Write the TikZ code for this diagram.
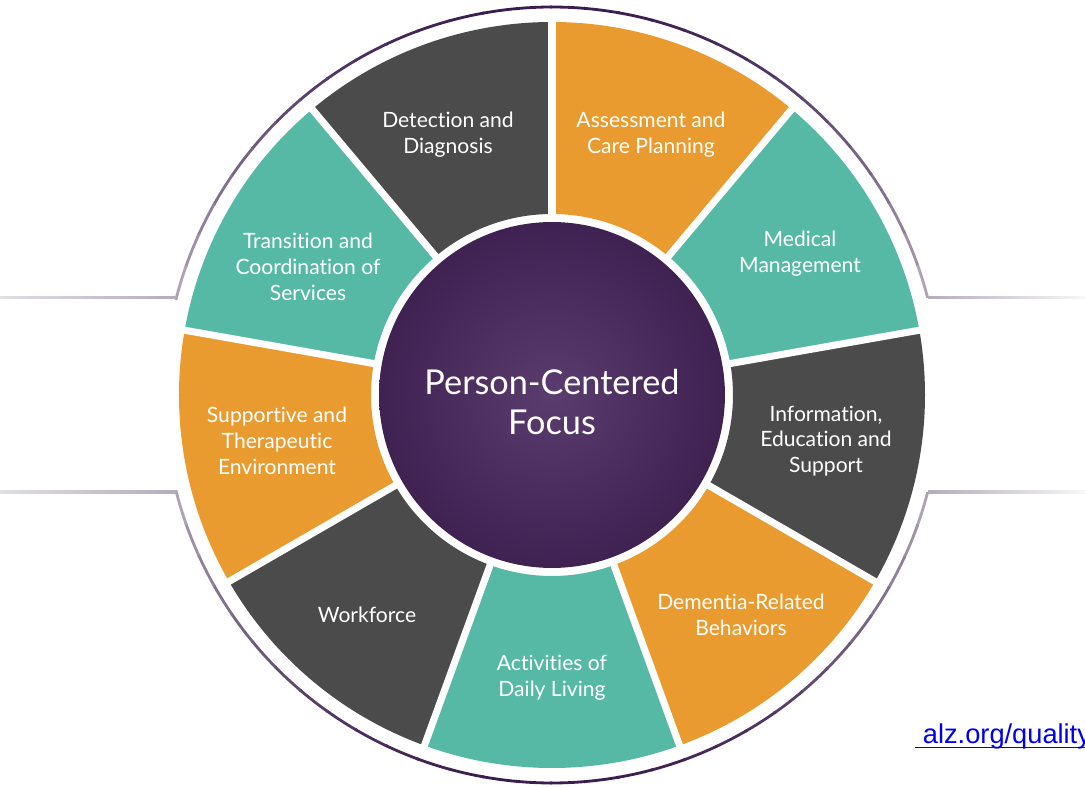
\documentclass[tikz,border=0pt]{standalone}
\usepackage{fontspec}
\setmainfont{Lato}[Ligatures={NoCommon}]
\newfontfamily\linkfont{Liberation Sans}
\usetikzlibrary{calc}

\definecolor{wheelgrey}{HTML}{4B4B4B}
\definecolor{wheelorange}{HTML}{EA9B2F}
\definecolor{wheelteal}{HTML}{56B9A6}
\definecolor{focusdark}{HTML}{3F2152}
\definecolor{focuslight}{HTML}{5A3D6E}
\definecolor{ringdark}{HTML}{3A1A4E}
\definecolor{ringlight}{HTML}{B5ACBB}
\definecolor{linkblue}{HTML}{0000EE}

\tikzset{
  seglabel/.style={text=white,align=center,font=\fontsize{12}{14.7}\selectfont},
  gapline/.style={white,line width=4pt},
}

\begin{document}
\begin{tikzpicture}[x=0.02cm,y=0.02cm]
  \useasboundingbox (-552,-392) rectangle (533,395);
  % the nine segments, 40 degrees each
  \foreach \a/\c [evaluate=\a as \b using \a+40] in {90/wheelgrey,130/wheelteal,170/wheelorange,210/wheelgrey,250/wheelteal,290/wheelorange,330/wheelgrey,370/wheelteal,410/wheelorange}
    \fill[\c] (\a:181) arc[start angle=\a,end angle=\b,radius=181] -- (\b:373) arc[start angle=\b,end angle=\a,radius=373] -- cycle;
  \foreach \a in {90,130,...,410}
    \draw[gapline] (\a:175) -- (\a:380);
  % centre
  \node (focus) at (0,0) [circle,minimum size=6.92cm,inner sep=0pt,shading=radial,inner color=focuslight,outer color=focusdark] {};
  \node (focustext) at (0,-7) [text=white,align=center,font=\fontsize{19.5}{22.7}\selectfont] {Person-Centered\\Focus};
  % outer ring, darker at top and bottom
  \foreach \i in {0,...,29} {
    \pgfmathsetmacro{\s}{14.5+\i*151/30}
    \pgfmathsetmacro{\e}{\s+151/30+0.3}
    \pgfmathtruncatemacro{\p}{100*(1-(abs(\s+2.5-90)/75.5)^2)}
    \draw[ringdark!\p!ringlight,line width=1.6pt] (\s:388) arc[start angle=\s,end angle=\e,radius=388];
    \draw[ringdark!\p!ringlight,line width=1.6pt] (-\s:388) arc[start angle=-\s,end angle=-\e,radius=388];
  }
  \shade[left color=ringlight!40,right color=ringlight] (-552,96) rectangle (-376,98.5);
  \shade[left color=ringlight!40,right color=ringlight] (-552,-98.5) rectangle (-376,-96);
  \shade[left color=ringlight,right color=ringlight!10] (376,96) rectangle (533,98.5);
  \shade[left color=ringlight,right color=ringlight!10] (376,-98.5) rectangle (533,-96);
  % labels
  \node (detect) at (-104,260) [seglabel] {Detection and\\Diagnosis};
  \node (assess) at (99,260) [seglabel] {Assessment and\\Care Planning};
  \node (medical) at (248,141) [seglabel] {Medical\\Management};
  \node (inform) at (274,-46) [seglabel] {Information,\\Education and\\Support};
  \node (dementia) at (189,-220) [seglabel] {Dementia-Related\\Behaviors};
  \node (daily) at (0,-283) [seglabel] {Activities of\\Daily Living};
  \node (workforce) at (-185,-220) [seglabel] {Workforce};
  \node (support) at (-275,-46) [seglabel] {Supportive and\\Therapeutic\\Environment};
  \node (transit) at (-244,128) [seglabel] {Transition and\\Coordination of\\Services};
  % link
  \node (link) at (363,-348) [anchor=base west,inner sep=0pt,text=linkblue,font=\linkfont\fontsize{15.5}{18}\selectfont] {\ alz.org/quality};
  \draw[linkblue,line width=1pt] ([yshift=-2.5pt]link.base west) -- ([yshift=-2.5pt]link.base east);
\end{tikzpicture}
\end{document}
